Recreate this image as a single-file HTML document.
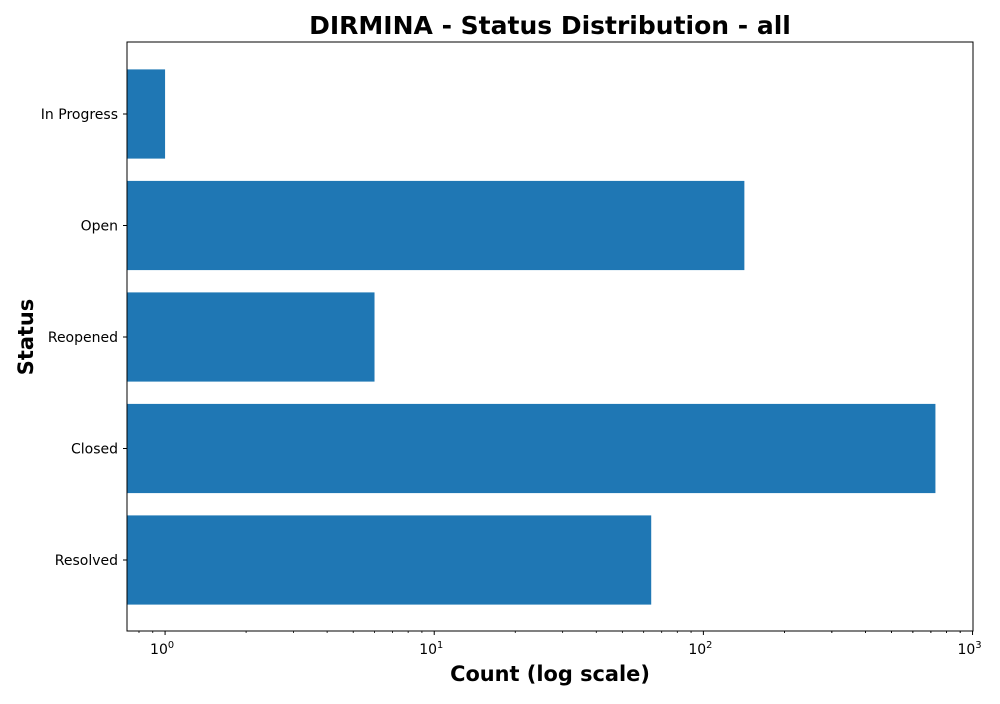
<!DOCTYPE html>
<html><head><meta charset="utf-8"><style>
body{margin:0;background:#fff;font-family:"DejaVu Sans","Liberation Sans",sans-serif}
svg text{font-family:"DejaVu Sans","Liberation Sans",sans-serif}
</style></head><body>
<svg id="chart" width="1000" height="700" xmlns="http://www.w3.org/2000/svg">
<rect width="1000" height="700" fill="#fff"/>
<text x="550" y="34" text-anchor="middle" font-size="25" font-weight="bold">DIRMINA - Status Distribution - all</text>
<g id="bars"></g>
<g id="axes"></g>
<text x="550" y="681" text-anchor="middle" font-size="20.9" font-weight="bold">Count (log scale)</text>
<text transform="translate(33,337) rotate(-90)" text-anchor="middle" font-size="20.9" font-weight="bold">Status</text>
</svg>
<script>
const categories=["Resolved","Closed","Reopened","Open","In Progress"];
const counts=[64,728,6,142,1];
const xTickExps=[0,1,2,3];
const NS="http://www.w3.org/2000/svg";
const L=127,R=973,T=42,B=631;
const lmin=Math.log10(0.722),lmax=Math.log10(1004);
function xs(v){return L+(Math.log10(v)-lmin)/(lmax-lmin)*(R-L);}
function ys(i){return 560-i*111.5;}
const bh=89.2;
function mk(tag,attrs,parent){const e=document.createElementNS(NS,tag);for(const k in attrs)e.setAttribute(k,attrs[k]);parent.appendChild(e);return e;}
const bars=document.getElementById('bars'),axes=document.getElementById('axes');
categories.forEach((c,i)=>{
 const r=mk('rect',{x:L,y:ys(i)-bh/2,width:xs(counts[i])-L,height:bh,fill:'#1f77b4'},bars);
 
 
 mk('line',{x1:L-4,x2:L,y1:ys(i),y2:ys(i),stroke:'#000','stroke-width':1},axes);
 const t=mk('text',{x:L-9,y:ys(i)+5,'text-anchor':'end','font-size':14},axes);
 t.textContent=c;
 
 
});
xTickExps.forEach(e=>{
 const x=xs(Math.pow(10,e));
 mk('line',{x1:x,x2:x,y1:B,y2:B+4,stroke:'#000','stroke-width':1},axes);
 const t=mk('text',{x:x-3,y:B+23,'text-anchor':'middle','font-size':14},axes);
 t.textContent='10';
 
 
 const s=mk('tspan',{dy:-6,'font-size':9.8},t);s.textContent=String(e);
 for(let m=2;m<10;m++){const v=m*Math.pow(10,e-1);const xx=xs(v);if(xx>=L&&xx<=R)mk('line',{x1:xx,x2:xx,y1:B,y2:B+2,stroke:'#000','stroke-width':0.8},axes);}
});
for(let m=2;m<10;m++){const xx=xs(m*100);mk('line',{x1:xx,x2:xx,y1:B,y2:B+2,stroke:'#000','stroke-width':0.8},axes);}
const fr=mk('rect',{x:L,y:T,width:R-L,height:B-T,fill:'none',stroke:'#000','stroke-width':1},axes);


</script>
</body></html>
